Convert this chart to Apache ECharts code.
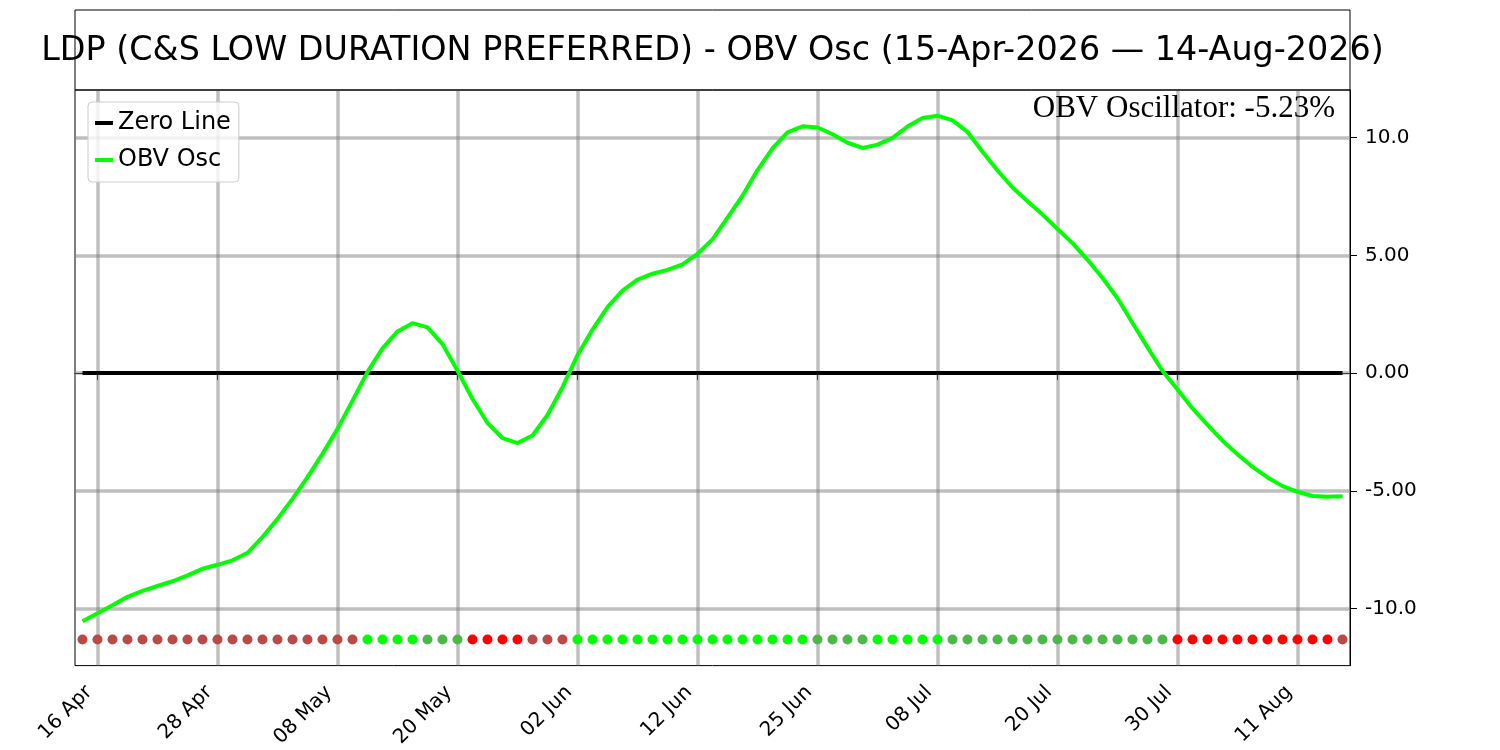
<!DOCTYPE html>
<html>
<head>
<meta charset="utf-8">
<script src="https://cdn.jsdelivr.net/npm/echarts@6/dist/echarts.min.js"></script>
<style>
  html, body { margin: 0; padding: 0; background: #fff; }
  #main { width: 1500px; height: 750px; }
</style>
</head>
<body>
<div id="main"></div>
<script>
// trading days shown on the x axis
var dates = [
  '15 Apr','16 Apr','17 Apr','20 Apr','21 Apr','22 Apr','23 Apr','24 Apr','27 Apr','28 Apr','29 Apr','30 Apr',
  '01 May','04 May','05 May','06 May','07 May','08 May','11 May','12 May','13 May','14 May','15 May','18 May',
  '19 May','20 May','21 May','22 May','26 May','27 May','28 May','29 May',
  '01 Jun','02 Jun','03 Jun','04 Jun','05 Jun','08 Jun','09 Jun','10 Jun','11 Jun','12 Jun','15 Jun','16 Jun',
  '17 Jun','18 Jun','22 Jun','23 Jun','24 Jun','25 Jun','26 Jun','29 Jun','30 Jun',
  '01 Jul','02 Jul','06 Jul','07 Jul','08 Jul','09 Jul','10 Jul','13 Jul','14 Jul','15 Jul','16 Jul','17 Jul',
  '20 Jul','21 Jul','22 Jul','23 Jul','24 Jul','27 Jul','28 Jul','29 Jul','30 Jul','31 Jul',
  '03 Aug','04 Aug','05 Aug','06 Aug','07 Aug','10 Aug','11 Aug','12 Aug','13 Aug','14 Aug'
];

// OBV oscillator
var obvOsc = [
  -10.54, -10.2, -9.86, -9.5, -9.25, -9.04, -8.84, -8.59, -8.31, -8.14,
  -7.95, -7.63, -6.96, -6.19, -5.34, -4.42, -3.43, -2.37, -1.17, 0.05,
  1.05, 1.77, 2.12, 1.94, 1.23, 0.1, -1.1, -2.12, -2.76, -2.97,
  -2.65, -1.78, -0.6, 0.76, 1.85, 2.8, 3.5, 3.97, 4.22, 4.38,
  4.62, 5.06, 5.68, 6.6, 7.53, 8.62, 9.54, 10.22, 10.48, 10.43,
  10.14, 9.78, 9.56, 9.7, 9.99, 10.47, 10.83, 10.93, 10.73, 10.24,
  9.4, 8.6, 7.88, 7.3, 6.73, 6.12, 5.52, 4.81, 4.04, 3.18,
  2.13, 1.09, 0.09, -0.7, -1.5, -2.2, -2.87, -3.45, -3.98, -4.43,
  -4.8, -5.04, -5.22, -5.25, -5.23
];

// state dots along the bottom: B = neg rising, G = pos rising, g = pos falling, R = neg falling
var dotStates = ('BBBBBBBBBBBBBBBBBBB' + 'GGGG' + 'ggg' + 'RRRR' + 'BBB' +
  'GGGGGGGGGGGGGGGG' + 'gggg' + 'GGGGG' + 'ggggggggggggggg' + 'RRRRRRRRRRR' + 'B').split('');
var dotLevel = -11.31;

var tickLabels = ['16 Apr','28 Apr','08 May','20 May','02 Jun','12 Jun','25 Jun','08 Jul','20 Jul','30 Jul','11 Aug'];
var yTickValues = [-10, -5, 0, 5, 10];
var yTickText = ['-10.0', '-5.00', '0.00', '5.00', '10.0'];

var dotColors = { B: '#b94a48', G: '#00ff00', g: '#4cb84c', R: '#ff0000' };
var gridColor = 'rgba(128,128,128,0.5)';
var font = '"DejaVu Sans", sans-serif';

var chart = echarts.init(document.getElementById('main'));

function isTick(idx, val) {
  return tickLabels.indexOf(val) !== -1;
}

var option = {
  animation: false,
  backgroundColor: '#fff',
  grid: {
    left: 75, right: 150, top: 90, bottom: 83,
    show: true, borderColor: '#000', borderWidth: 1
  },
  graphic: [
    {
      type: 'rect',
      shape: { x: 75, y: 10, width: 1275, height: 80 },
      style: { fill: 'none', stroke: '#000', lineWidth: 1 },
      z: 10
    },
    {
      type: 'text',
      x: 712.5, y: 51,
      style: {
        text: 'LDP (C&S LOW DURATION PREFERRED) - OBV Osc (15-Apr-2026 \u2014 14-Aug-2026)',
        fontSize: 33.4, fontFamily: font, fill: '#000',
        align: 'center', verticalAlign: 'middle',
        textAlign: 'center', textVerticalAlign: 'middle'
      },
      z: 10
    },
    {
      type: 'text',
      x: 1335, y: 109,
      style: {
        text: 'OBV Oscillator: -5.23%',
        fontSize: 31, fontFamily: '"Liberation Serif", "Times New Roman", serif', fill: '#000',
        align: 'right', verticalAlign: 'middle',
        textAlign: 'right', textVerticalAlign: 'middle'
      },
      z: 10
    }
  ],
  legend: {
    orient: 'vertical',
    left: 88, top: 102,
    padding: [8, 8, 9, 7],
    itemGap: 11,
    itemWidth: 18, itemHeight: 4,
    backgroundColor: 'rgba(255,255,255,0.8)',
    borderColor: '#cccccc', borderWidth: 1, borderRadius: 4,
    textStyle: { fontSize: 24, fontFamily: font, color: '#000', lineHeight: 26 },
    data: [
      { name: 'Zero Line', icon: 'rect' },
      { name: 'OBV Osc', icon: 'rect' }
    ]
  },
  xAxis: {
    type: 'category',
    data: dates,
    boundaryGap: true,
    axisLine: { show: true, lineStyle: { color: '#000', width: 1 } },
    axisTick: { show: true, alignWithLabel: true, interval: isTick, length: 7, lineStyle: { color: '#000' } },
    axisLabel: {
      interval: isTick, rotate: 45, margin: 15,
      padding: [0, 12, 0, 0],
      fontSize: 20, fontFamily: font, color: '#000'
    },
    splitLine: { show: false }
  },
  yAxis: {
    type: 'value',
    position: 'right',
    min: -12.42, max: 12.02,
    axisLine: { show: true, lineStyle: { color: '#000', width: 1 } },
    axisTick: { show: true, customValues: yTickValues, length: 7, lineStyle: { color: '#000' } },
    axisLabel: {
      customValues: yTickValues, margin: 15,
      fontSize: 20, fontFamily: font, color: '#000',
      formatter: function (v) {
        var k = yTickValues.indexOf(v);
        return k === -1 ? '' : yTickText[k];
      }
    },
    splitLine: { show: false }
  },
  series: [
    {
      name: 'grid',
      type: 'line',
      data: [],
      z: 1,
      silent: true,
      markLine: {
        z: 1,
        silent: true,
        symbol: ['none', 'none'],
        label: { show: false },
        lineStyle: { type: 'solid', color: gridColor, width: 3.5 },
        data: tickLabels.map(function (d) { return { xAxis: d }; })
          .concat(yTickValues.map(function (v) { return { yAxis: v }; }))
      }
    },
    {
      name: 'Zero Line',
      type: 'line',
      data: dates.map(function () { return 0; }),
      symbol: 'none',
      z: 3,
      itemStyle: { color: '#000' },
      lineStyle: { color: '#000', width: 4 }
    },
    {
      name: 'OBV Osc',
      type: 'line',
      data: obvOsc,
      symbol: 'none',
      z: 4,
      itemStyle: { color: '#00ff00' },
      lineStyle: { color: '#00ff00', width: 4 }
    },
    {
      name: 'states',
      type: 'scatter',
      symbolSize: 10,
      z: 5,
      itemStyle: { opacity: 1 },
      data: dotStates.map(function (s) {
        return { value: dotLevel, itemStyle: { color: dotColors[s], opacity: 1 } };
      })
    }
  ]
};

chart.setOption(option);
</script>
</body>
</html>
